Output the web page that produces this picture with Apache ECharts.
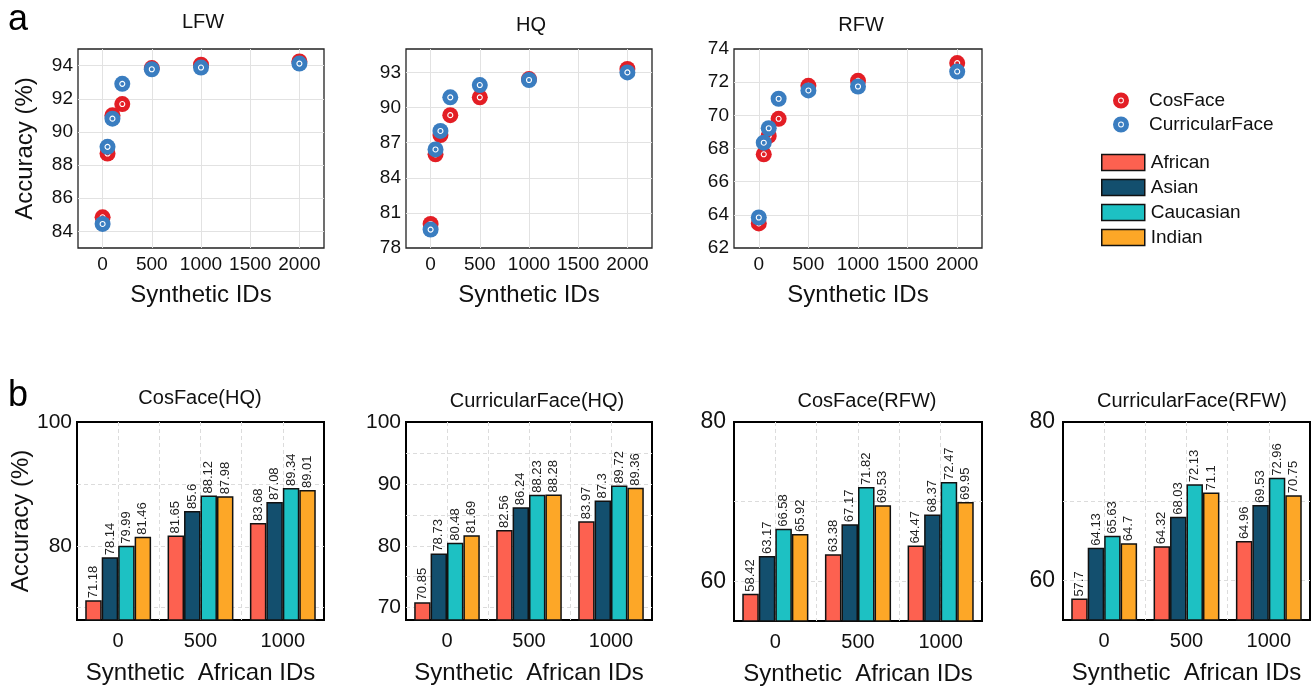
<!DOCTYPE html>
<html>
<head>
<meta charset="utf-8">
<script src="https://cdn.jsdelivr.net/npm/echarts@6/dist/echarts.min.js"></script>
<style>
html,body{margin:0;padding:0;background:#fff;}
#chart{width:1314px;height:689px;}
</style>
</head>
<body>
<div id="chart"></div>
<script>
// ---------- DATA ----------
const scatterX = [0, 50, 100, 200, 500, 1000, 2000];
const xTickValues = [0, 500, 1000, 1500, 2000];

const lfwCosFace      = [84.85, 88.70, 91.00, 91.68, 93.85, 94.05, 94.25];
const lfwCurricular   = [84.45, 89.10, 90.80, 92.90, 93.78, 93.88, 94.12];
const hqCosFace       = [80.05, 86.00, 87.65, 89.35, 90.87, 92.43, 93.30];
const hqCurricular    = [79.57, 86.42, 88.00, 90.87, 91.92, 92.35, 93.00];
const rfwCosFace      = [63.48, 67.65, 68.76, 69.79, 71.78, 72.08, 73.15];
const rfwCurricular   = [63.84, 68.35, 69.22, 71.00, 71.50, 71.74, 72.64];

const lfwYTicks = [84, 86, 88, 90, 92, 94];
const hqYTicks  = [78, 81, 84, 87, 90, 93];
const rfwYTicks = [62, 64, 66, 68, 70, 72, 74];

const barCategories = ['0', '500', '1000'];
const races = ['African', 'Asian', 'Caucasian', 'Indian'];
// rows: African, Asian, Caucasian, Indian ; columns: 0, 500, 1000
const cosfaceHQ = [[71.18, 81.65, 83.68], [78.14, 85.6, 87.08], [79.99, 88.12, 89.34], [81.46, 87.98, 89.01]];
const curricularHQ = [[70.85, 82.56, 83.97], [78.73, 86.24, 87.3], [80.48, 88.23, 89.72], [81.69, 88.28, 89.36]];
const cosfaceRFW = [[58.42, 63.38, 64.47], [63.17, 67.17, 68.37], [66.58, 71.82, 72.47], [65.92, 69.53, 69.95]];
const curricularRFW = [[57.7, 64.32, 64.96], [64.13, 68.03, 69.53], [65.63, 72.13, 72.96], [64.7, 71.1, 70.75]];

const hqGridTicks = [70, 80, 90];
const hqLabelTicks1 = [80, 100];
const hqGridTicks2 = [70, 75, 80, 85, 90, 95];
const hqLabelTicks2 = [70, 80, 90, 100];
const rfwGridTicks = [60, 70];
const rfwLabelTicks = [60, 80];
const barXGridTicks = [0.5, 1, 1.5, 2, 2.5];

// ---------- STYLE ----------
const FONT = "'Liberation Sans', Arial, Helvetica, sans-serif";
const RED = '#E31E25';
const BLUE = '#3A7DC0';
const raceColors = ['#FD6150', '#134F6E', '#1DC1C3', '#FDA727'];
const RING = 'path://M0,10A10,10,0,1,1,20,10A10,10,0,1,1,0,10ZM6.4,10A3.6,3.6,0,1,0,13.6,10A3.6,3.6,0,1,0,6.4,10ZM7.6,10A2.4,2.4,0,1,1,12.4,10A2.4,2.4,0,1,1,7.6,10Z';

const topGrids = [
  {left: 78, top: 49, width: 246, height: 199},
  {left: 406, top: 49, width: 246, height: 199},
  {left: 734, top: 49, width: 248, height: 199}
];
const botGrids = [
  {left: 77, top: 422, width: 247, height: 198},
  {left: 406, top: 422, width: 246, height: 198},
  {left: 734, top: 422, width: 248, height: 199},
  {left: 1063, top: 422, width: 247, height: 198}
];

const topPanels = [
  {title: 'LFW', cos: lfwCosFace, cur: lfwCurricular, min: 83, max: 95, ticks: lfwYTicks, tx: 203, ty: 22},
  {title: 'HQ', cos: hqCosFace, cur: hqCurricular, min: 78, max: 95, ticks: hqYTicks, tx: 531, ty: 25},
  {title: 'RFW', cos: rfwCosFace, cur: rfwCurricular, min: 62, max: 74, ticks: rfwYTicks, tx: 861, ty: 25}
];
const botPanels = [
  {title: 'CosFace(HQ)', data: cosfaceHQ, min: 68, max: 100, grid: hqGridTicks, labels: hqLabelTicks1, fs: 21, margin: 5, tx: 200, ty: 398},
  {title: 'CurricularFace(HQ)', data: curricularHQ, min: 68, max: 100, grid: hqGridTicks2, labels: hqLabelTicks2, fs: 21, margin: 5, tx: 537, ty: 401},
  {title: 'CosFace(RFW)', data: cosfaceRFW, min: 55, max: 80, grid: rfwGridTicks, labels: rfwLabelTicks, fs: 23, margin: 8, tx: 867, ty: 401},
  {title: 'CurricularFace(RFW)', data: curricularRFW, min: 55, max: 80, grid: rfwGridTicks, labels: rfwLabelTicks, fs: 23, margin: 8, tx: 1192, ty: 401}
];

const grid = [];
const xAxis = [];
const yAxis = [];
const series = [];
const graphic = [];
const plain = v => String(v);
const inner = (ticks, lo, hi) => ticks.filter(t => t > lo && t < hi);

topPanels.forEach((p, i) => {
  grid.push(Object.assign({show: true, borderColor: '#222', borderWidth: 1.3, backgroundColor: 'transparent'}, topGrids[i]));
  xAxis.push({
    type: 'value', gridIndex: i, min: -250, max: 2250,
    axisLine: {show: false}, axisTick: {show: false, customValues: xTickValues},
    axisLabel: {customValues: xTickValues, formatter: plain, fontSize: 19, color: '#111', margin: 7, fontFamily: FONT},
    splitLine: {show: true, lineStyle: {color: '#e2e2e2', width: 1}},
    name: 'Synthetic IDs', nameLocation: 'middle', nameGap: 35,
    nameTextStyle: {fontSize: 24, color: '#111', fontFamily: FONT}
  });
  yAxis.push({
    type: 'value', gridIndex: i, min: p.min, max: p.max,
    axisLine: {show: false}, axisTick: {show: false, customValues: inner(p.ticks, p.min, p.max)},
    axisLabel: {customValues: p.ticks, formatter: plain, fontSize: 19, color: '#111', margin: 5, fontFamily: FONT},
    splitLine: {show: true, lineStyle: {color: '#e2e2e2', width: 1}},
    name: i === 0 ? 'Accuracy (%)' : '', nameLocation: 'middle', nameGap: 41,
    nameTextStyle: {fontSize: 24, color: '#111', fontFamily: FONT}
  });
  const pts = [['CosFace', p.cos, RED], ['CurricularFace', p.cur, BLUE]];
  pts.forEach(([name, vals, col]) => {
    const d = scatterX.map((x, k) => [x, vals[k]]);
    series.push({type: 'scatter', name: name, xAxisIndex: i, yAxisIndex: i, data: d,
      symbol: 'circle', symbolSize: 16, itemStyle: {color: col, opacity: 1}, z: 3, silent: true});
    series.push({type: 'scatter', name: name + ' ring', xAxisIndex: i, yAxisIndex: i, data: d,
      symbol: 'circle', symbolSize: 5, itemStyle: {color: col, borderColor: '#fff', borderWidth: 1.1, opacity: 1}, z: 3, silent: true});
  });
  graphic.push({type: 'text', x: p.tx, y: p.ty, style: {text: p.title, fontSize: 20, fontFamily: FONT, fill: '#111',
    textAlign: 'center', textVerticalAlign: 'middle', align: 'center', verticalAlign: 'middle'}});
});

botPanels.forEach((p, j) => {
  const gi = 3 + j;
  grid.push(Object.assign({show: true, borderColor: '#000', borderWidth: 2, backgroundColor: 'transparent'}, botGrids[j]));
  xAxis.push({
    type: 'category', gridIndex: gi, data: barCategories,
    axisLine: {show: false}, axisTick: {show: false},
    axisLabel: {fontSize: 20, color: '#111', margin: 11, fontFamily: FONT},
    splitLine: {show: false},
    name: 'Synthetic  African IDs', nameLocation: 'middle', nameGap: 41,
    nameTextStyle: {fontSize: 24, color: '#111', fontFamily: FONT}
  });
  yAxis.push({
    type: 'value', gridIndex: gi, min: p.min, max: p.max,
    axisLine: {show: false}, axisTick: {show: false, customValues: p.grid},
    axisLabel: {customValues: p.labels, formatter: plain, fontSize: p.fs, color: '#111', margin: p.margin, fontFamily: FONT},
    splitLine: {show: true, lineStyle: {color: '#dcdcdc', width: 1, type: [4, 3]}},
    name: j === 0 ? 'Accuracy (%)' : '', nameLocation: 'middle', nameGap: 38,
    nameTextStyle: {fontSize: 24, color: '#111', fontFamily: FONT}
  });
  races.forEach((r, k) => {
    series.push({
      type: 'bar', name: r, xAxisIndex: gi, yAxisIndex: gi, data: p.data[k],
      barGap: '0%', barCategoryGap: '20%',
      itemStyle: {color: raceColors[k], borderColor: '#111', borderWidth: 1.5},
      label: {show: true, position: 'top', rotate: 90, align: 'left', verticalAlign: 'middle', distance: 2,
        fontSize: 13, color: '#222', fontFamily: FONT},
      silent: true, z: 2
    });
  });
  graphic.push({type: 'text', x: p.tx, y: p.ty, style: {text: p.title, fontSize: 20, fontFamily: FONT, fill: '#111',
    textAlign: 'center', textVerticalAlign: 'middle', align: 'center', verticalAlign: 'middle'}});
});

// helper value axes for vertical dashed grid lines in bar panels
botPanels.forEach((p, j) => {
  xAxis.push({
    type: 'value', gridIndex: 3 + j, min: 0, max: 3, position: 'top',
    axisLine: {show: false}, axisTick: {show: false, customValues: barXGridTicks},
    axisLabel: {show: false, customValues: barXGridTicks},
    splitLine: {show: true, lineStyle: {color: '#dcdcdc', width: 1, type: [4, 3]}}
  });
});

graphic.push({type: 'text', x: 8, y: 20, style: {text: 'a', fontSize: 36, fontFamily: FONT, fill: '#000',
  textAlign: 'left', textVerticalAlign: 'middle', align: 'left', verticalAlign: 'middle'}});
graphic.push({type: 'text', x: 8, y: 396, style: {text: 'b', fontSize: 36, fontFamily: FONT, fill: '#000',
  textAlign: 'left', textVerticalAlign: 'middle', align: 'left', verticalAlign: 'middle'}});

const option = {
  animation: false,
  backgroundColor: '#fff',
  textStyle: {fontFamily: FONT},
  grid: grid,
  xAxis: xAxis,
  yAxis: yAxis,
  legend: [
    {
      data: [{name: 'CosFace', icon: RING}, {name: 'CurricularFace', icon: RING}],
      orient: 'vertical', left: 1113, top: 91, itemWidth: 16, itemHeight: 16, itemGap: 5,
      padding: 0, selectedMode: false,
      textStyle: {fontSize: 19, color: '#111', fontFamily: FONT, lineHeight: 16, padding: [0, 0, 0, 15]}
    },
    {
      data: races, icon: 'rect',
      orient: 'vertical', left: 1101, top: 153, itemWidth: 43, itemHeight: 16, itemGap: 6,
      padding: 0, selectedMode: false,
      itemStyle: {borderColor: '#111', borderWidth: 1.5},
      textStyle: {fontSize: 19, color: '#111', fontFamily: FONT, lineHeight: 16, padding: [0, 0, 0, 1]}
    }
  ],
  graphic: graphic,
  series: series
};

const chart = echarts.init(document.getElementById('chart'), null, {renderer: 'canvas'});
chart.setOption(option);
</script>
</body>
</html>
